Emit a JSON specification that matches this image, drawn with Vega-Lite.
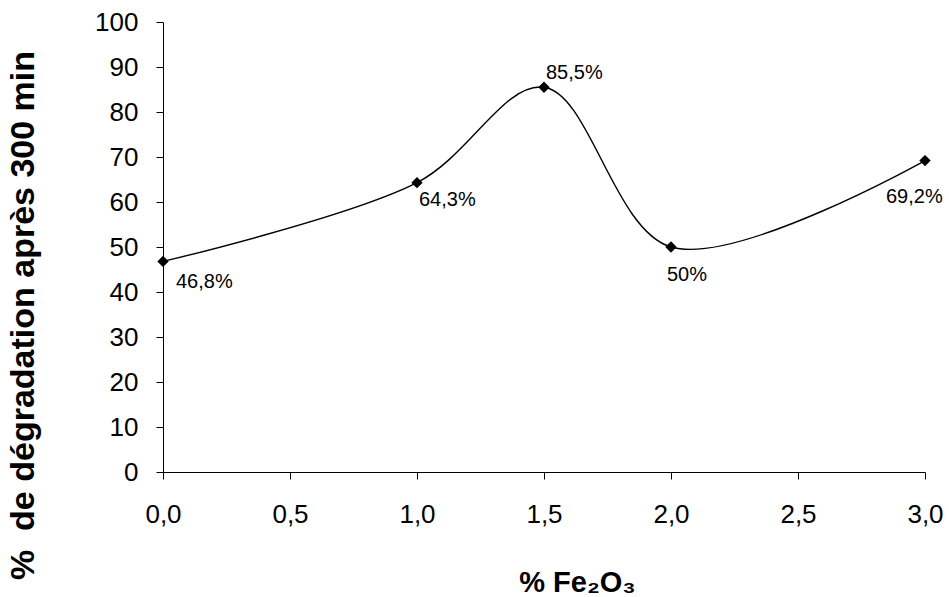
{
  "$schema": "https://vega.github.io/schema/vega-lite/v6.json",
  "width": 762,
  "height": 450,
  "autosize": {"type": "none"},
  "padding": {"left": 163, "top": 22, "right": 24, "bottom": 125},
  "background": "white",
  "config": {
    "view": {"stroke": null},
    "font": "Liberation Sans",
    "locale": {"number": {"decimal": ",", "thousands": ".", "grouping": [3], "currency": ["", " €"]}}
  },
  "data": {"values": [
    {"fe": 0.0, "deg": 46.8, "label": "46,8%"},
    {"fe": 1.0, "deg": 64.3, "label": "64,3%"},
    {"fe": 1.5, "deg": 85.5, "label": "85,5%"},
    {"fe": 2.0, "deg": 50.0, "label": "50%"},
    {"fe": 3.0, "deg": 69.2, "label": "69,2%"}
  ]},
  "encoding": {
    "x": {"field": "fe", "type": "quantitative",
      "scale": {"domain": [0, 3], "nice": false, "zero": false},
      "axis": {"title": "% Fe₂O₃", "values": [0, 0.5, 1, 1.5, 2, 2.5, 3], "format": ".1f",
        "grid": false, "domainColor": "black", "tickColor": "black", "tickSize": 7, "labelPadding": 22,
        "labelFont": "Liberation Sans", "labelFontSize": 26, "labelColor": "black", "labelFlush": false,
        "titleFont": "Liberation Sans", "titleFontSize": 29, "titleFontWeight": "bold", "titleColor": "black",
        "titleX": 414, "titleY": 110, "titleAlign": "center", "titleBaseline": "middle"}},
    "y": {"field": "deg", "type": "quantitative",
      "scale": {"domain": [0, 100], "nice": false},
      "axis": {"title": "% \u00a0de dégradation après 300 min", "values": [0,10,20,30,40,50,60,70,80,90,100],
        "grid": false, "domainColor": "black", "tickColor": "black", "tickSize": 7, "labelPadding": 18,
        "labelFont": "Liberation Sans", "labelFontSize": 26, "labelColor": "black", "labelFlush": false,
        "titleFont": "Liberation Sans", "titleFontSize": 34, "titleFontWeight": "bold", "titleColor": "black",
        "titleX": -140, "titleY": 293, "titleAngle": -90, "titleAlign": "center", "titleBaseline": "middle"}}
  },
  "layer": [
    {"mark": {"type": "line", "interpolate": "catmull-rom", "color": "black", "strokeWidth": 1.4}},
    {"mark": {"type": "point", "shape": "diamond", "filled": true, "color": "black", "size": 130, "opacity": 1}},
    {"transform": [{"filter": "datum.fe == 0"}],
     "mark": {"type": "text", "align": "left", "baseline": "middle", "dx": 13, "dy": 21, "fontSize": 20, "color": "black"},
     "encoding": {"text": {"field": "label"}}},
    {"transform": [{"filter": "datum.fe == 1"}],
     "mark": {"type": "text", "align": "left", "baseline": "middle", "dx": 2, "dy": 17, "fontSize": 20, "color": "black"},
     "encoding": {"text": {"field": "label"}}},
    {"transform": [{"filter": "datum.fe == 1.5"}],
     "mark": {"type": "text", "align": "left", "baseline": "middle", "dx": 2, "dy": -14, "fontSize": 20, "color": "black"},
     "encoding": {"text": {"field": "label"}}},
    {"transform": [{"filter": "datum.fe == 2"}],
     "mark": {"type": "text", "align": "left", "baseline": "middle", "dx": -4, "dy": 28, "fontSize": 20, "color": "black"},
     "encoding": {"text": {"field": "label"}}},
    {"transform": [{"filter": "datum.fe == 3"}],
     "mark": {"type": "text", "align": "left", "baseline": "middle", "dx": -39, "dy": 36, "fontSize": 20, "color": "black"},
     "encoding": {"text": {"field": "label"}}}
  ]
}
